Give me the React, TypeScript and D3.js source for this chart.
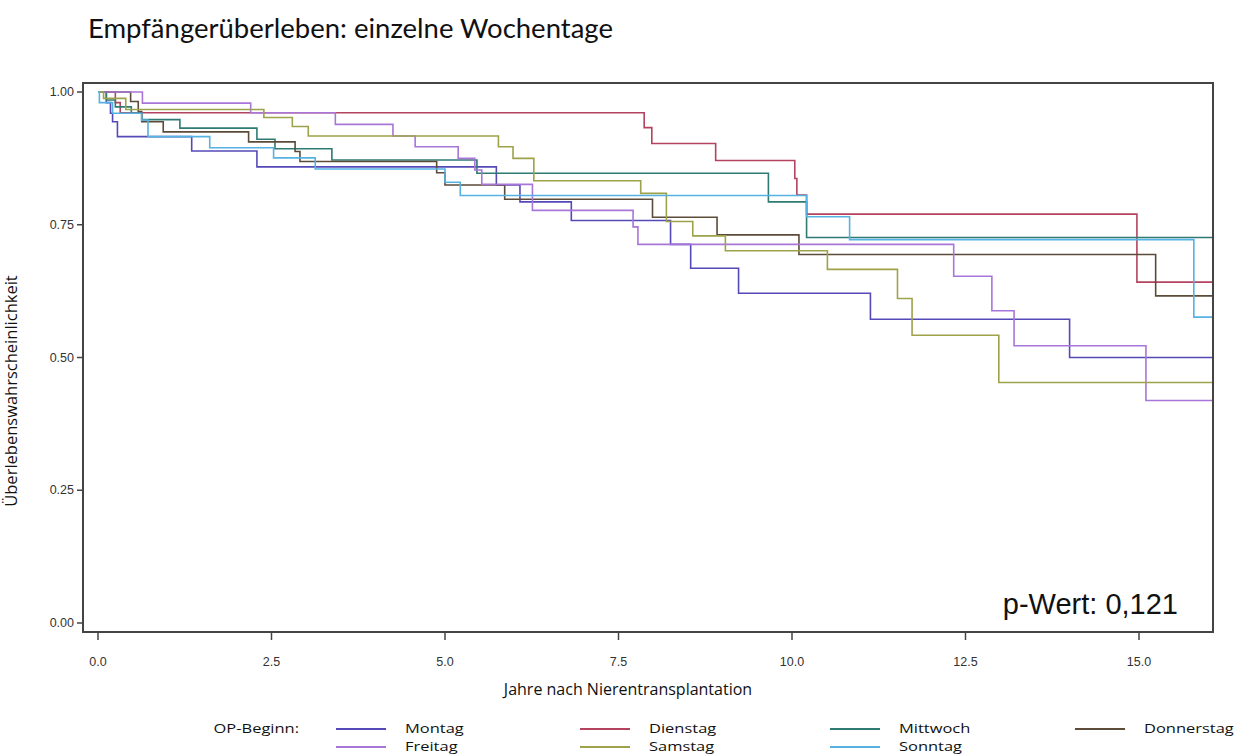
import React from "react";
import * as d3 from "d3";

const xTicks = [0, 2.5, 5, 7.5, 10, 12.5, 15];
const yTicks = [0, 0.25, 0.5, 0.75, 1];

const montag: [number, number][] = [
  [0, 1], [0.12, 0.98], [0.18, 0.96], [0.21, 0.944], [0.28, 0.916], [1.35, 0.889], [2.29, 0.859],
  [5.74, 0.825], [6.08, 0.793], [6.82, 0.758], [8.25, 0.713], [8.54, 0.668], [9.23, 0.621],
  [11.13, 0.572], [14.0, 0.5],
];
const dienstag: [number, number][] = [
  [0, 1], [0.25, 0.98], [0.32, 0.961], [7.87, 0.933], [7.98, 0.903], [8.9, 0.871], [10.04, 0.837],
  [10.07, 0.806], [10.21, 0.77], [14.97, 0.642],
];
const mittwoch: [number, number][] = [
  [0, 1], [0.12, 0.985], [0.25, 0.972], [0.48, 0.96], [0.63, 0.948], [1.18, 0.932], [2.29, 0.911],
  [2.55, 0.893], [3.37, 0.872], [5.46, 0.847], [9.66, 0.793], [10.21, 0.726],
];
const donnerstag: [number, number][] = [
  [0, 1], [0.47, 0.982], [0.58, 0.963], [0.63, 0.944], [0.94, 0.925], [2.17, 0.906], [2.84, 0.888],
  [2.91, 0.869], [4.88, 0.848], [5.0, 0.825], [5.86, 0.798], [7.99, 0.764], [8.92, 0.731],
  [10.1, 0.694], [15.24, 0.616],
];
const freitag: [number, number][] = [
  [0, 1], [0.64, 0.979], [2.2, 0.961], [3.42, 0.939], [4.25, 0.917], [4.57, 0.897], [5.19, 0.875],
  [5.43, 0.853], [5.53, 0.826], [6.26, 0.777], [7.71, 0.746], [7.78, 0.713], [12.33, 0.653],
  [12.88, 0.588], [13.2, 0.522], [15.1, 0.419],
];
const samstag: [number, number][] = [
  [0, 1], [0.08, 0.988], [0.4, 0.967], [2.39, 0.952], [2.8, 0.935], [3.03, 0.917], [5.77, 0.897],
  [5.98, 0.875], [6.28, 0.833], [7.82, 0.809], [8.19, 0.756], [8.57, 0.729], [9.04, 0.701],
  [10.51, 0.666], [11.52, 0.611], [11.73, 0.542], [12.98, 0.453],
];
const sonntag: [number, number][] = [
  [0, 1], [0.02, 0.98], [0.21, 0.96], [0.63, 0.947], [0.72, 0.916], [1.61, 0.895], [2.53, 0.876],
  [3.13, 0.855], [5.0, 0.83], [5.22, 0.805], [10.21, 0.765], [10.83, 0.722], [15.79, 0.576],
];

const seriesNames = ["Montag", "Dienstag", "Mittwoch", "Donnerstag", "Freitag", "Samstag", "Sonntag"];
const seriesData = [montag, dienstag, mittwoch, donnerstag, freitag, samstag, sonntag];
const seriesColors = ["#5549b8", "#b3435e", "#2f7a73", "#5c4b38", "#a876d8", "#9ea24a", "#55b2e2"];

const legendRows = [
  ["Montag", "Dienstag", "Mittwoch", "Donnerstag"],
  ["Freitag", "Samstag", "Sonntag"],
];

const labelFont = "'Open Sans', 'Noto Sans', sans-serif";
const arial = "'Liberation Sans', Arial, sans-serif";

export default function App() {
  const left = 83, right = 1213, top = 83, bottom = 632;
  const x = d3.scaleLinear().domain([0, 15]).range([98, 1139]);
  const y = d3.scaleLinear().domain([0, 1]).range([623, 92]);
  const tEnd = x.invert(right - 1);
  const line = d3
    .line<[number, number]>()
    .x((d) => x(d[0]))
    .y((d) => y(d[1]))
    .curve(d3.curveStepAfter);

  const legendCols = [336, 580, 830, 1075];
  const legendY = [728, 746];

  return (
    <svg
      width={1238}
      height={756}
      style={{ position: "absolute", left: 0, top: 0, background: "#fff" }}
    >
      <rect x={0} y={0} width={1238} height={756} fill="#fff" />
      <text x={88} y={38} fontFamily="Lato, 'Open Sans', sans-serif" fontSize={27.5} fill="#111">
        Empfängerüberleben: einzelne Wochentage
      </text>

      {/* curves */}
      <g fill="none" strokeWidth={1.6}>
        {seriesData.map((d, i) => {
          const pts: [number, number][] = [...d, [tEnd, d[d.length - 1][1]]];
          return <path key={seriesNames[i]} d={line(pts) || ""} stroke={seriesColors[i]} />;
        })}
      </g>

      {/* frame */}
      <rect x={left} y={top} width={right - left} height={bottom - top} fill="none" stroke="#444" strokeWidth={2} />

      {/* y ticks */}
      {yTicks.map((t) => (
        <g key={"y" + t}>
          <line x1={left - 6} x2={left} y1={y(t)} y2={y(t)} stroke="#444" strokeWidth={1.5} />
          <text x={left - 9} y={y(t) + 4} textAnchor="end" fontFamily={arial} fontSize={12.5} fill="#333">
            {t.toFixed(2)}
          </text>
        </g>
      ))}
      {/* x ticks */}
      {xTicks.map((t) => (
        <g key={"x" + t}>
          <line x1={x(t)} x2={x(t)} y1={bottom} y2={bottom + 8} stroke="#444" strokeWidth={1.5} />
          <text x={x(t)} y={666} textAnchor="middle" fontFamily={arial} fontSize={12.5} fill="#333">
            {t.toFixed(1)}
          </text>
        </g>
      ))}

      <text x={628} y={695} textAnchor="middle" fontFamily={labelFont} fontSize={16} fill="#111">
        Jahre nach Nierentransplantation
      </text>
      <text
        transform={`translate(17, ${391}) rotate(-90)`}
        textAnchor="middle"
        fontFamily={labelFont}
        fontSize={16.5}
        fill="#111"
      >
        Überlebenswahrscheinlichkeit
      </text>

      <text x={1178} y={614} textAnchor="end" fontFamily={arial} fontSize={29} fill="#111">
        p-Wert: 0,121
      </text>

      {/* legend */}
      <text
        transform="translate(299, 733) scale(1.22, 1)"
        textAnchor="end"
        fontFamily={labelFont}
        fontSize={13.5}
        fill="#111"
      >
        OP-Beginn:
      </text>
      {legendRows.map((row, r) =>
        row.map((name, c) => {
          const i = seriesNames.indexOf(name);
          const lx = legendCols[c];
          const ly = legendY[r];
          return (
            <g key={name}>
              <line x1={lx} x2={lx + 50} y1={ly + 1} y2={ly + 1} stroke={seriesColors[i]} strokeWidth={2} />
              <text
                transform={`translate(${lx + 69}, ${ly + 5}) scale(1.22, 1)`}
                fontFamily={labelFont}
                fontSize={13.5}
                fill="#111"
              >
                {name}
              </text>
            </g>
          );
        })
      )}
    </svg>
  );
}
